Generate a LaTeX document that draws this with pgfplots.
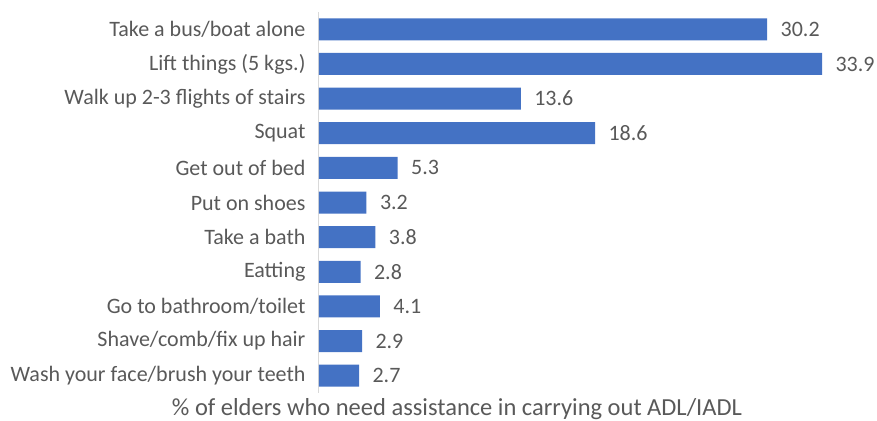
\documentclass[border=0pt]{standalone}
\usepackage{pgfplots}
\pgfplotsset{compat=1.18}
\usepackage{fontspec}
\setmainfont{Carlito}
\definecolor{barblue}{HTML}{4472C4}
\definecolor{axgray}{HTML}{D9D9D9}
\definecolor{txt}{HTML}{595959}
\begin{document}
\begin{tikzpicture}
\begin{axis}[name=ax,
  scale only axis, width=540bp, height=381bp,
  xmin=0, xmax=36.39,
  ymin=-0.5, ymax=10.5, y dir=reverse,
  xbar, bar width=22bp,
  hide x axis,
  axis y line*=left,
  y axis line style={axgray, line width=1bp},
  ytick={0,...,10},
  yticklabels={Take a bus/boat alone, Lift things (5 kgs.), Walk up 2-3 flights of stairs, Squat, Get out of bed, Put on shoes, Take a bath, Eatting, Go to bathroom/toilet, Shave/comb/fix up hair, Wash your face/brush your teeth},
  major tick length=0pt,
  yticklabel style={font=\fontsize{22bp}{24bp}\selectfont, color=txt, xshift=-10bp},
  nodes near coords,
  nodes near coords style={font=\fontsize{22bp}{24bp}\selectfont, color=txt, anchor=west, xshift=10bp},
  point meta=explicit symbolic,
]
\addplot[fill=barblue, draw=none] coordinates {
(30.2,0) [30.2]
(33.9,1) [33.9]
(13.6,2) [13.6]
(18.6,3) [18.6]
(5.3,4) [5.3]
(3.2,5) [3.2]
(3.8,6) [3.8]
(2.8,7) [2.8]
(4.1,8) [4.1]
(2.9,9) [2.9]
(2.7,10) [2.7]
};
\end{axis}
\node[font=\fontsize{24.5bp}{27bp}\selectfont, color=txt] at ([xshift=138bp,yshift=-16.5bp]ax.south west) {\% of elders who need assistance in carrying out ADL/IADL};
\pgfresetboundingbox
\path ([xshift=-319bp,yshift=-28bp]ax.south west) rectangle ++(877bp,421bp);
\end{tikzpicture}
\end{document}
